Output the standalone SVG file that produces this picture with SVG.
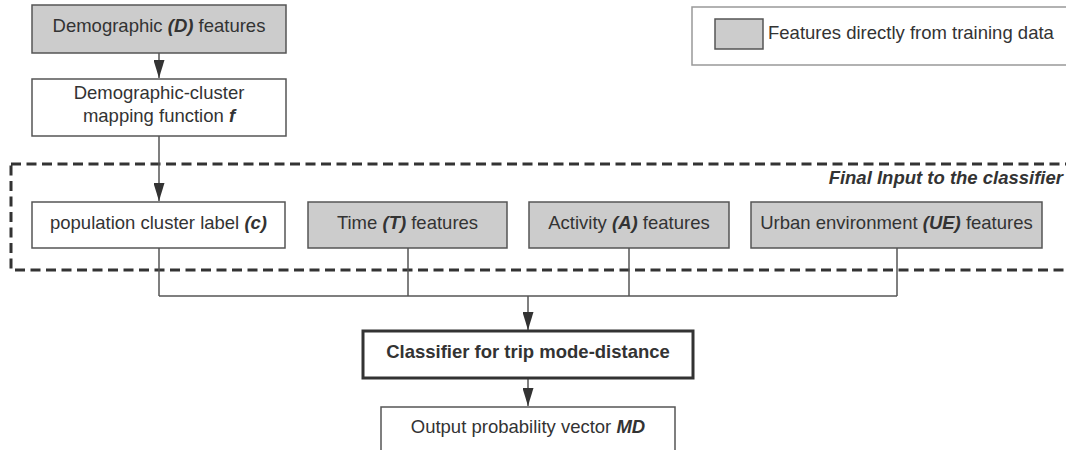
<svg xmlns="http://www.w3.org/2000/svg" width="1066" height="450" viewBox="0 0 1066 450">
  <defs>
    <marker id="arrow" markerUnits="userSpaceOnUse" markerWidth="18" markerHeight="11" refX="18" refY="5.5" orient="auto">
      <path d="M0,0 L18,5.5 L0,11 Z" fill="#333"/>
    </marker>
    <style>
      text { font-family: "Liberation Sans", Arial, sans-serif; font-size: 18.5px; fill: #333; }
      .c { text-anchor: middle; }
      .bi { font-weight: bold; font-style: italic; }
      .data { fill: #cccccc; stroke: #555; stroke-width: 1.5; }
      .plain { fill: #ffffff; stroke: #555; stroke-width: 1.5; }
      .wire { fill: none; stroke: #555; stroke-width: 1.5; }
    </style>
  </defs>
  <rect width="1066" height="450" fill="#ffffff"/>

  <!-- legend -->
  <g id="legend">
    <rect x="692" y="7" width="390" height="58" fill="#ffffff" stroke="#999" stroke-width="1.5"/>
    <rect x="715" y="19" width="48" height="30" class="data"/>
    <text x="768" y="39">Features directly from training data</text>
  </g>

  <!-- dashed frame around the classifier inputs -->
  <g id="input-frame">
    <rect x="11" y="164" width="1070" height="106" fill="none" stroke="#333" stroke-width="3" stroke-dasharray="10 5.5"/>
    <text x="1063" y="184" class="bi" text-anchor="end">Final Input to the classifier</text>
  </g>

  <!-- connectors -->
  <g id="connectors">
    <line x1="159" y1="53" x2="159" y2="78" class="wire" marker-end="url(#arrow)"/>
    <line x1="159" y1="136" x2="159" y2="201" class="wire" marker-end="url(#arrow)"/>
    <path d="M159,248 V296 M408,248 V296 M629,248 V296 M897,248 V296 M159,296 H897" class="wire"/>
    <line x1="528" y1="296" x2="528" y2="330" class="wire" marker-end="url(#arrow)"/>
    <line x1="528" y1="378" x2="528" y2="406" class="wire" marker-end="url(#arrow)"/>
  </g>

  <g id="demographic">
    <rect x="32" y="5" width="254" height="48" class="data"/>
    <text x="159" y="32" class="c">Demographic <tspan class="bi">(D)</tspan> features</text>
  </g>

  <g id="mapping">
    <rect x="32" y="79" width="254" height="57" class="plain"/>
    <text x="159" y="99" class="c">Demographic-cluster</text>
    <text x="159" y="122" class="c">mapping function <tspan class="bi">f</tspan></text>
  </g>

  <g id="cluster-label">
    <rect x="32" y="202" width="253" height="46" class="plain"/>
    <text x="158.5" y="229" class="c">population cluster label <tspan class="bi">(c)</tspan></text>
  </g>

  <g id="time">
    <rect x="308" y="202" width="199" height="46" class="data"/>
    <text x="407.5" y="229" class="c">Time <tspan class="bi">(T)</tspan> features</text>
  </g>

  <g id="activity">
    <rect x="529" y="202" width="200" height="46" class="data"/>
    <text x="629" y="229" class="c">Activity <tspan class="bi">(A)</tspan> features</text>
  </g>

  <g id="urban">
    <rect x="751" y="202" width="291" height="46" class="data"/>
    <text x="896.5" y="229" class="c">Urban environment <tspan class="bi">(UE)</tspan> features</text>
  </g>

  <g id="classifier">
    <rect x="363" y="331" width="330" height="47" fill="#ffffff" stroke="#333" stroke-width="3"/>
    <text x="528" y="358" class="c" font-weight="bold">Classifier for trip mode-distance</text>
  </g>

  <g id="output">
    <rect x="381" y="407" width="294" height="52" class="plain"/>
    <text x="528" y="433" class="c">Output probability vector <tspan class="bi">MD</tspan></text>
  </g>
</svg>
